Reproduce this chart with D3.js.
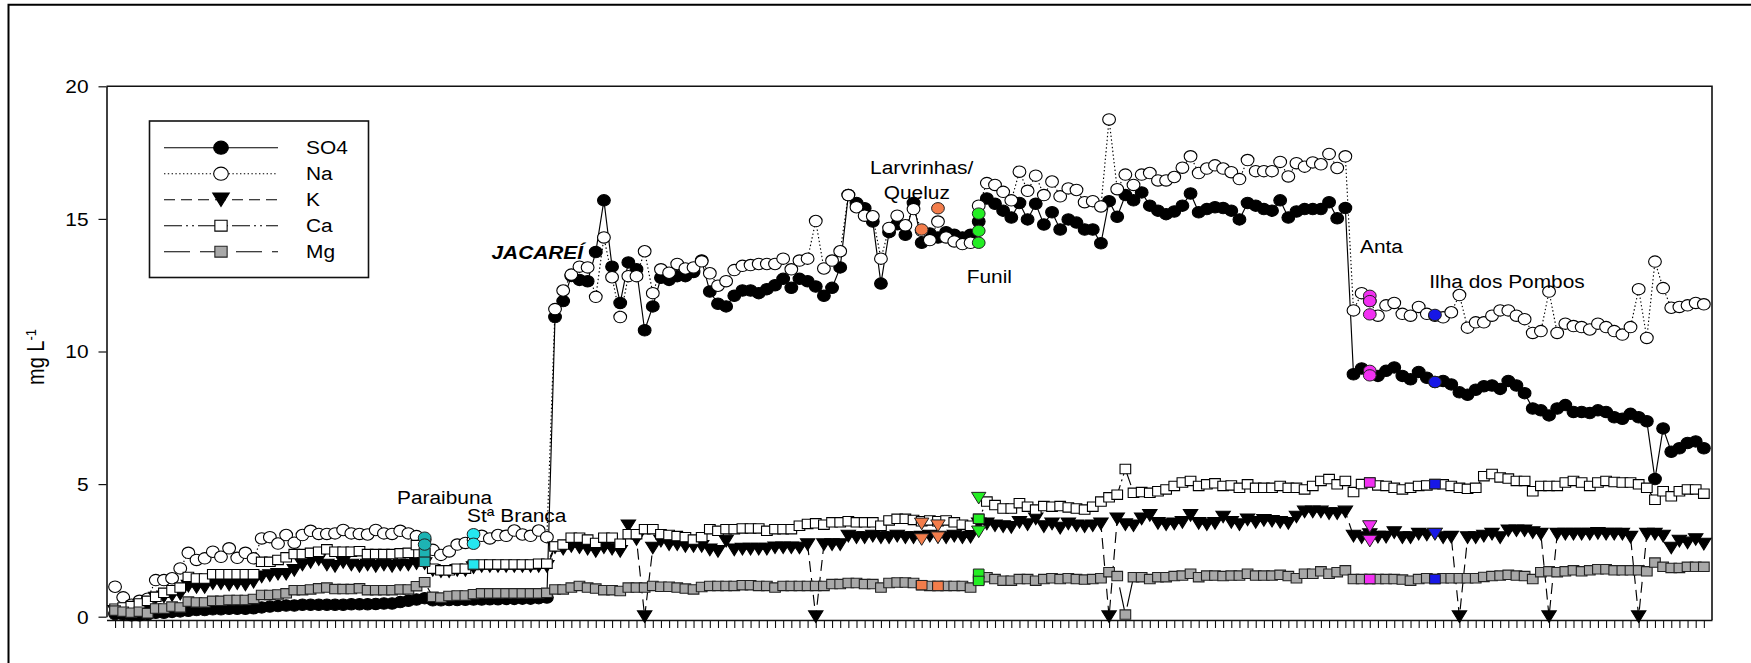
<!DOCTYPE html>
<html>
<head>
<meta charset="utf-8">
<script src="https://cdn.jsdelivr.net/npm/d3@7"></script>
<style>
  html, body { margin: 0; padding: 0; background: #fff; }
  svg { display: block; }
  text { font-family: "Liberation Sans", Arial, sans-serif; fill: #000; }
</style>
</head>
<body>
<svg id="chart" width="1751" height="663"></svg>
<script>
// ---- data: one value per sample along the river, mg L-1 ----
const sampleIndex = d3.range(196);

const so4 = [
  0.10, 0.08, 0.05, 0.05, 0.08, 0.15, 0.15, 0.18, 0.20, 0.22,
  0.25, 0.25, 0.28, 0.28, 0.30, 0.30, 0.30, 0.32, 0.35, 0.38,
  0.40, 0.42, 0.42, 0.45, 0.45, 0.45, 0.45, 0.45, 0.45, 0.47,
  0.47, 0.47, 0.48, 0.50, 0.50, 0.55, 0.60, 0.65, 0.70, 0.62,
  0.62, 0.63, 0.63, 0.64, 0.65, 0.65, 0.66, 0.66, 0.67, 0.67,
  0.68, 0.68, 0.70, 0.72, 11.3, 11.9, 12.85, 12.7, 12.65, 13.75,
  15.7, 13.2, 11.83, 13.36, 13.1, 10.8, 11.7, 12.78, 12.7, 12.84,
  12.84, 13.0, 13.43, 12.26, 11.8, 11.7, 12.1, 12.3, 12.3, 12.2,
  12.35, 12.5, 12.74, 12.4, 12.74, 12.65, 12.45, 12.1, 12.4, 13.17,
  15.9, 15.6, 15.4, 14.9, 12.56, 14.5, 14.8, 14.4, 15.6, 14.1,
  14.45, 14.3, 14.5, 14.4, 14.3, 14.4, 14.9, 15.77, 15.57, 15.31,
  15.05, 15.6, 14.98, 15.57, 14.79, 15.25, 14.6, 14.98, 14.86, 14.6,
  14.6, 14.08, 15.67, 15.08, 15.9, 15.7, 16.0, 15.5, 15.31, 15.18,
  15.28, 15.5, 15.96, 15.25, 15.37, 15.44, 15.41, 15.31, 14.98, 15.6,
  15.5, 15.37, 15.31, 15.7, 15.05, 15.28, 15.37, 15.37, 15.37, 15.63,
  15.02, 15.41, 9.14, 9.36, 9.2, 9.08, 9.27, 9.4, 9.08, 8.95,
  9.23, 9.01, 8.85, 8.89, 8.76, 8.46, 8.37, 8.56, 8.69, 8.72,
  8.59, 8.89, 8.72, 8.43, 7.85, 7.78, 7.59, 7.85, 7.98, 7.72,
  7.72, 7.68, 7.78, 7.72, 7.52, 7.46, 7.65, 7.52, 7.37, 5.19,
  7.1, 6.22, 6.35, 6.55, 6.61, 6.35
];

const na = [
  1.13, 0.73, 0.45, 0.60, 0.68, 1.38, 1.38, 1.45, 1.82, 2.41,
  2.14, 2.20, 2.45, 2.26, 2.58, 2.22, 2.41, 2.20, 2.95, 3.00,
  2.76, 3.08, 2.79, 3.08, 3.24, 3.12, 3.12, 3.14, 3.27, 3.14,
  3.12, 3.10, 3.27, 3.14, 3.12, 3.24, 3.14, 3.04, 2.90, 2.52,
  2.33, 2.46, 2.72, 2.78, 2.90, 3.05, 2.95, 3.08, 3.05, 3.25,
  3.10, 3.05, 3.25, 3.00, 11.6, 12.3, 12.9, 13.2, 13.17, 12.06,
  14.3, 12.8, 11.3, 12.84, 12.84, 13.78, 12.2, 13.1, 12.97, 13.3,
  13.13, 13.17, 13.4, 12.95, 12.48, 12.65, 13.07, 13.23, 13.26, 13.3,
  13.3, 13.3, 13.5, 13.1, 13.43, 13.5, 14.92, 13.13, 13.43, 13.78,
  15.9, 15.44, 15.12, 15.1, 13.5, 14.66, 15.12, 14.76, 15.37, 14.55,
  14.2, 14.9, 14.3, 14.15, 14.05, 14.1, 15.5, 16.35, 16.28, 16.02,
  15.7, 16.78, 16.06, 16.63, 15.9, 16.41, 15.85, 16.15, 16.09, 15.63,
  15.67, 15.47, 18.75, 16.12, 16.67, 16.28, 16.67, 16.73, 16.45, 16.45,
  16.58, 16.93, 17.36, 16.73, 16.9, 17.02, 16.9, 16.76, 16.5, 17.22,
  16.8, 16.8, 16.8, 17.15, 16.6, 17.1, 16.97, 17.13, 17.06, 17.45,
  16.92, 17.36, 11.55, 12.2, 11.9, 11.35, 11.74, 11.83, 11.42, 11.35,
  11.68, 11.42, 11.35, 11.29, 11.48, 12.13, 10.9, 11.1, 11.1, 11.35,
  11.55, 11.55, 11.35, 11.22, 10.7, 10.77, 12.26, 10.7, 11.05, 10.96,
  10.92, 10.83, 11.05, 10.92, 10.77, 10.64, 10.92, 12.35, 10.51, 13.39,
  12.39, 11.65, 11.68, 11.74, 11.83, 11.78
];

const k = [
  0.20, 0.20, 0.15, 0.25, 0.30, 0.70, 0.75, 0.80, 0.85, 1.15,
  1.10, 1.10, 1.25, 1.25, 1.20, 1.25, 1.20, 1.30, 1.50, 1.55,
  1.60, 1.60, 1.75, 1.95, 2.05, 2.15, 1.95, 1.90, 2.05, 1.95,
  1.90, 1.95, 1.90, 1.95, 1.90, 1.95, 1.95, 2.00, 2.00, 1.75,
  1.70, 1.70, 1.75, 1.75, 1.85, 1.90, 1.90, 1.90, 1.90, 1.90,
  1.90, 1.90, 1.90, 1.90, 2.60, 2.55, 2.65, 2.60, 2.55, 2.46,
  2.60, 2.55, 2.46, 3.43, 2.91, 0.00, 2.59, 2.85, 2.72, 2.72,
  2.65, 2.65, 2.65, 2.52, 2.46, 2.85, 2.52, 2.55, 2.55, 2.55,
  2.55, 2.60, 2.60, 2.60, 2.59, 2.72, 0.00, 2.72, 2.72, 2.72,
  3.04, 2.98, 2.98, 3.04, 2.98, 2.98, 3.04, 2.98, 2.98, 3.00,
  3.04, 3.00, 2.98, 3.04, 2.98, 3.00, 3.50, 3.50, 3.43, 3.40,
  3.37, 3.56, 3.47, 3.69, 3.40, 3.50, 3.34, 3.50, 3.43, 3.40,
  3.43, 3.50, 0.00, 3.69, 3.47, 3.43, 3.69, 3.82, 3.52, 3.47,
  3.50, 3.56, 3.82, 3.52, 3.47, 3.52, 3.76, 3.56, 3.47, 3.65,
  3.56, 3.63, 3.60, 3.56, 3.52, 3.76, 3.95, 3.95, 3.95, 3.89,
  3.89, 3.95, 3.04, 2.98, 3.10, 3.00, 3.00, 3.17, 2.98, 2.98,
  3.11, 3.08, 3.11, 2.98, 3.00, 0.00, 2.98, 2.98, 3.04, 3.11,
  2.98, 3.24, 3.24, 3.24, 3.17, 3.11, 0.00, 3.11, 3.11, 3.11,
  3.11, 3.11, 3.14, 3.11, 3.11, 3.11, 3.00, 0.00, 3.11, 3.11,
  3.04, 2.59, 2.85, 2.78, 2.91, 2.74
];

const ca = [
  0.30, 0.35, 0.40, 0.50, 0.60, 0.75, 0.90, 1.00, 1.10, 1.50,
  1.44, 1.44, 1.60, 1.60, 1.60, 1.60, 1.60, 1.60, 2.07, 2.07,
  2.14, 2.24, 2.36, 2.36, 2.41, 2.45, 2.54, 2.45, 2.45, 2.45,
  2.47, 2.36, 2.36, 2.36, 2.36, 2.39, 2.41, 2.70, 2.40, 1.81,
  1.75, 1.75, 1.81, 1.81, 1.95, 1.97, 1.97, 1.97, 1.97, 1.97,
  1.97, 1.97, 2.00, 2.00, 2.65, 2.72, 2.98, 2.98, 2.91, 2.78,
  2.98, 2.98, 2.75, 3.11, 3.11, 3.30, 3.30, 3.11, 3.08, 3.04,
  3.00, 2.91, 3.00, 3.30, 3.24, 3.30, 3.30, 3.33, 3.33, 3.33,
  3.24, 3.30, 3.30, 3.30, 3.43, 3.50, 3.52, 3.47, 3.56, 3.56,
  3.60, 3.56, 3.56, 3.56, 3.43, 3.63, 3.69, 3.69, 3.65, 3.60,
  3.63, 3.60, 3.63, 3.56, 3.47, 3.43, 3.69, 4.34, 4.21, 4.08,
  4.08, 4.28, 4.15, 4.04, 4.17, 4.15, 4.17, 4.12, 4.08, 4.04,
  4.15, 4.34, 4.50, 4.60, 5.57, 4.67, 4.70, 4.67, 4.73, 4.80,
  4.93, 5.06, 5.12, 4.93, 4.99, 5.03, 4.93, 4.95, 4.86, 4.99,
  4.86, 4.86, 4.86, 4.93, 4.86, 4.86, 4.80, 4.93, 5.12, 5.19,
  4.99, 5.12, 4.70, 5.00, 5.06, 4.95, 4.93, 4.86, 4.80, 4.86,
  4.93, 4.95, 5.00, 4.99, 4.93, 4.86, 4.82, 4.86, 5.30, 5.38,
  5.25, 5.21, 5.12, 5.12, 4.73, 4.93, 4.93, 4.93, 5.06, 5.12,
  5.06, 4.93, 5.06, 5.12, 5.08, 5.06, 5.06, 4.99, 4.86, 4.41,
  4.73, 4.54, 4.73, 4.80, 4.80, 4.64
];

const mg = [
  0.23, 0.19, 0.15, 0.19, 0.13, 0.31, 0.31, 0.38, 0.35, 0.57,
  0.54, 0.54, 0.60, 0.60, 0.63, 0.63, 0.63, 0.67, 0.82, 0.82,
  0.84, 0.88, 1.00, 1.00, 1.03, 1.07, 1.10, 1.04, 1.04, 1.04,
  1.07, 1.00, 1.00, 1.00, 1.00, 1.03, 1.03, 1.15, 1.30, 0.75,
  0.72, 0.78, 0.80, 0.80, 0.85, 0.88, 0.88, 0.88, 0.88, 0.88,
  0.88, 0.88, 0.88, 0.90, 1.03, 1.03, 1.10, 1.16, 1.10, 1.06,
  1.00, 1.00, 0.97, 1.10, 1.10, 1.10, 1.16, 1.13, 1.13, 1.10,
  1.06, 1.03, 1.12, 1.16, 1.16, 1.16, 1.16, 1.19, 1.19, 1.16,
  1.16, 1.10, 1.16, 1.16, 1.16, 1.16, 1.16, 1.16, 1.23, 1.23,
  1.27, 1.27, 1.23, 1.23, 1.10, 1.27, 1.29, 1.29, 1.27, 1.19,
  1.16, 1.16, 1.16, 1.16, 1.16, 1.10, 1.40, 1.49, 1.42, 1.36,
  1.36, 1.42, 1.42, 1.36, 1.42, 1.45, 1.42, 1.45, 1.42, 1.40,
  1.42, 1.45, 1.68, 1.53, 0.08, 1.49, 1.49, 1.42, 1.49, 1.49,
  1.53, 1.55, 1.62, 1.49, 1.55, 1.55, 1.53, 1.55, 1.55, 1.62,
  1.55, 1.55, 1.55, 1.58, 1.53, 1.45, 1.62, 1.62, 1.71, 1.62,
  1.68, 1.75, 1.42, 1.42, 1.42, 1.42, 1.42, 1.42, 1.40, 1.36,
  1.42, 1.45, 1.42, 1.45, 1.45, 1.45, 1.45, 1.45, 1.50, 1.53,
  1.55, 1.58, 1.55, 1.53, 1.42, 1.68, 1.71, 1.68, 1.71, 1.75,
  1.71, 1.75, 1.79, 1.79, 1.75, 1.75, 1.75, 1.75, 1.71, 2.04,
  1.88, 1.84, 1.84, 1.88, 1.88, 1.88
];

const seriesNames = ["SO4", "Na", "K", "Ca", "Mg"];
const yTickValues = [0, 5, 10, 15, 20];

// ---- reservoir samples drawn in colour on top of the river profile ----
const stationNames     = ["Paraibuna", "Stª Branca", "Larvrinhas", "Queluz", "Funil", "Anta", "Ilha dos Pombos"];
const stationIndex     = [38, 44, 99, 101, 106, 154, 162];
const stationCircles   = [[2.98, 2.72], [3.11, 2.75], [14.6], [15.4], [15.2, 14.55, 14.1], [12.1, 11.9, 11.4, 9.27, 9.1], [11.38, 8.85]];
const stationTriangles = [[], [], [3.5, 2.91], [3.43, 2.98], [4.47, 3.2], [3.4, 2.85], [3.11]];
const stationSquares   = [[2.42, 2.07], [1.97], [1.19], [1.16], [3.69, 1.62, 1.35], [5.06, 1.42], [5.0, 1.42]];

// ---- page layout ----
const W = 1751, H = 663;
const plot = { left: 106.5, right: 1712, top: 86.3, bottom: 616.7, axisY: 620 };
const SX = 1.16;          // lettering and symbols are slightly wider than tall
const FONT = 18;

const stationColor = ["#1db3b3", "#25e6f0", "#f37d4b", "#f37d4b", "#24ee24", "#f22ff2", "#1717e6"];

const annotations = [
  { text: "Paraibuna",       i: 34.6,  v: 4.51,  anchor: "start"  },
  { text: "Stª Branca",      i: 43.2,  v: 3.83,  anchor: "start"  },
  { text: "JACAREÍ",         i: 46.2,  v: 13.75, anchor: "start", bold: true },
  { text: "Larvrinhas/",     i: 99.0,  v: 16.95, anchor: "middle" },
  { text: "Queluz",          i: 98.4,  v: 15.99, anchor: "middle" },
  { text: "Funil",           i: 107.3, v: 12.84, anchor: "middle" },
  { text: "Anta",            i: 152.8, v: 13.95, anchor: "start"  },
  { text: "Ilha dos Pombos", i: 161.3, v: 12.65, anchor: "start"  }
];

const x = d3.scaleLinear().domain([-1.05, 196]).range([plot.left, plot.right]);
const y = d3.scaleLinear().domain([0, 20]).range([plot.bottom, plot.top]);

const series = [
  { name: seriesNames[0], values: so4, shape: "circle",   fill: "#000",    stroke: "#000", dash: null },
  { name: seriesNames[1], values: na,  shape: "circle",   fill: "#fff",    stroke: "#000", dash: "1.4,2.4" },
  { name: seriesNames[2], values: k,   shape: "triangle", fill: "#000",    stroke: "#000", dash: "11,6" },
  { name: seriesNames[3], values: ca,  shape: "square",   fill: "#fff",    stroke: "#000", dash: "18,4,2,4,2,4" },
  { name: seriesNames[4], values: mg,  shape: "square",   fill: "#a8a8a8", stroke: "#222", dash: "26,10" }
];

// symbol outlines, centred on (0,0)
function symbolPath(shape, s) {
  if (shape === "triangle") {
    const w = 6.2 * SX * s, h = 5.8 * s;
    return `M${-w},${-h}L${w},${-h}L0,${h}Z`;
  }
  if (shape === "square") {
    const w = 4.6 * SX * s, h = 4.7 * s;
    return `M${-w},${-h}H${w}V${h}H${-w}Z`;
  }
  const rx = 5.5 * SX * s, ry = 5.7 * s;
  return `M${-rx},0A${rx},${ry} 0 1,0 ${rx},0A${rx},${ry} 0 1,0 ${-rx},0Z`;
}

const svg = d3.select("#chart");
svg.append("rect").attr("width", W).attr("height", H).attr("fill", "#fff");

// page frame
svg.append("path")
  .attr("d", "M8.5,663V4.8H1751")
  .attr("fill", "none").attr("stroke", "#000").attr("stroke-width", 2);

// top and right edges of the plot box
svg.append("path")
  .attr("d", `M${plot.left},${plot.top}H${plot.right}V${plot.axisY}`)
  .attr("fill", "none").attr("stroke", "#111").attr("stroke-width", 1.6);

// x axis: one tick per sample, no labels
const gx = svg.append("g")
  .attr("transform", `translate(0,${plot.axisY})`)
  .call(d3.axisBottom(x).tickValues(sampleIndex).tickSize(8).tickSizeOuter(0).tickFormat(""));
gx.select(".domain").attr("stroke", "#111").attr("stroke-width", 1.6);
gx.selectAll(".tick line").attr("stroke", "#111").attr("stroke-width", 1.1);

// y axis
const gy = svg.append("g")
  .attr("transform", `translate(${plot.left},0)`)
  .call(d3.axisLeft(y).tickValues(yTickValues).tickSize(8).tickSizeOuter(0));
gy.attr("font-size", null).attr("font-family", null);
gy.select(".domain").attr("stroke", "#111").attr("stroke-width", 1.6);
gy.selectAll(".tick line").attr("stroke", "#111").attr("stroke-width", 1.2);
gy.selectAll(".tick text")
  .attr("x", -18 / SX).attr("dy", "0.36em")
  .attr("transform", `scale(${SX},1)`)
  .style("font-size", FONT + "px");

// y axis title
const yTitle = svg.append("text")
  .attr("transform", `translate(44,357) scale(${SX},1) rotate(-90)`)
  .attr("text-anchor", "middle")
  .style("font-size", "20px");
yTitle.append("tspan").text("mg L");
yTitle.append("tspan").attr("dy", "-0.55em").style("font-size", "13px").text("-1");

// series: line first, then symbols
const line = d3.line().x((d, i) => x(i)).y(d => y(d));
series.forEach(s => {
  const g = svg.append("g").attr("class", "series-" + s.name);
  g.append("path")
    .datum(s.values)
    .attr("d", line)
    .attr("fill", "none")
    .attr("stroke", "#000")
    .attr("stroke-width", 1.15)
    .attr("stroke-dasharray", s.dash);
  g.selectAll("path.sym")
    .data(s.values)
    .join("path")
    .attr("class", "sym")
    .attr("transform", (d, i) => `translate(${x(i)},${y(d)})`)
    .attr("d", symbolPath(s.shape, 1))
    .attr("fill", s.fill)
    .attr("stroke", s.stroke)
    .attr("stroke-width", 1.1);
});

// coloured reservoir samples
stationIndex.forEach((si, n) => {
  const g = svg.append("g").attr("class", "station");
  const pts = [];
  stationSquares[n].forEach(v => pts.push({ v, shape: "square" }));
  stationTriangles[n].forEach(v => pts.push({ v, shape: "triangle" }));
  stationCircles[n].forEach(v => pts.push({ v, shape: "circle" }));
  g.selectAll("path")
    .data(pts)
    .join("path")
    .attr("transform", d => `translate(${x(si)},${y(d.v)})`)
    .attr("d", d => symbolPath(d.shape, 1))
    .attr("fill", stationColor[n])
    .attr("stroke", "#222")
    .attr("stroke-width", 1);
});

// place-name annotations
svg.selectAll("text.note")
  .data(annotations)
  .join("text")
  .attr("class", "note")
  .attr("transform", d => `translate(${x(d.i)},${y(d.v)}) scale(${SX},1)`)
  .attr("dy", "0.36em")
  .attr("text-anchor", d => d.anchor)
  .style("font-size", FONT + "px")
  .style("font-weight", d => d.bold ? "bold" : null)
  .style("font-style", d => d.bold ? "italic" : null)
  .text(d => d.text);

// legend
const legend = { x0: 149.5, y0: 121, w: 219, h: 156.5, lineX0: 164, lineX1: 278, symX: 221, textX: 306, rowY0: 147.7, rowStep: 26 };
const lg = svg.append("g").attr("class", "legend");
lg.append("rect")
  .attr("x", legend.x0).attr("y", legend.y0)
  .attr("width", legend.w).attr("height", legend.h)
  .attr("fill", "#fff").attr("stroke", "#111").attr("stroke-width", 1.6);
const rows = lg.selectAll("g.row")
  .data(series)
  .join("g")
  .attr("class", "row")
  .attr("transform", (d, i) => `translate(0,${legend.rowY0 + i * legend.rowStep})`);
rows.append("line")
  .attr("x1", legend.lineX0).attr("x2", legend.lineX1)
  .attr("stroke", "#000").attr("stroke-width", 1.15)
  .attr("stroke-dasharray", d => d.dash);
rows.append("path")
  .attr("transform", `translate(${legend.symX},0)`)
  .attr("d", d => symbolPath(d.shape, 1.15))
  .attr("fill", d => d.fill).attr("stroke", d => d.stroke).attr("stroke-width", 1.1);
rows.append("text")
  .attr("transform", `translate(${legend.textX},0) scale(${SX},1)`)
  .attr("dy", "0.36em")
  .style("font-size", FONT + "px")
  .text(d => d.name);
</script>
</body>
</html>
